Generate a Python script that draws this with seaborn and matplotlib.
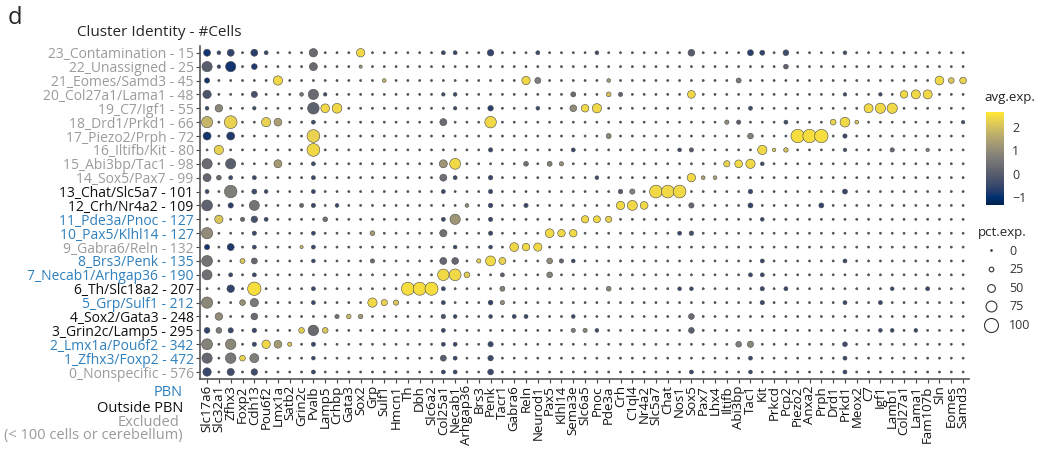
import numpy as np
import pandas as pd
import seaborn as sns
import matplotlib.pyplot as plt
from matplotlib.lines import Line2D
from matplotlib.colors import Normalize
from matplotlib.cm import ScalarMappable

# ========================================================
genes = ["Slc17a6", "Slc32a1", "Zfhx3", "Foxp2", "Cdh13", "Pou6f2", "Lmx1a", "Satb2",
         "Grin2c", "Pvalb", "Lamp5", "Crhbp", "Gata3", "Sox2", "Grp", "Sulf1", "Hmcn1",
         "Th", "Dbh", "Slc6a2", "Col25a1", "Necab1", "Arhgap36", "Brs3", "Penk", "Tacr1",
         "Gabra6", "Reln", "Neurod1", "Pax5", "Klhl14", "Sema3e", "Slc6a5", "Pnoc", "Pde3a",
         "Crh", "C1ql4", "Nr4a2", "Slc5a7", "Chat", "Nos1", "Sox5", "Pax7", "Lhx4", "Iltifb",
         "Abi3bp", "Tac1", "Kit", "Prkcd", "Pcp2", "Piezo2", "Anxa2", "Prph", "Drd1", "Prkd1",
         "Meox2", "C7", "Igf1", "Lamb1", "Col27a1", "Lama1", "Fam107b", "Sln", "Eomes", "Samd3"]

clusters = ["0_Nonspecific - 576", "1_Zfhx3/Foxp2 - 472", "2_Lmx1a/Pou6f2 - 342",
            "3_Grin2c/Lamp5 - 295", "4_Sox2/Gata3 - 248", "5_Grp/Sulf1 - 212",
            "6_Th/Slc18a2 - 207", "7_Necab1/Arhgap36 - 190", "8_Brs3/Penk - 135",
            "9_Gabra6/Reln - 132", "10_Pax5/Klhl14 - 127", "11_Pde3a/Pnoc - 127",
            "12_Crh/Nr4a2 - 109", "13_Chat/Slc5a7 - 101", "14_Sox5/Pax7 - 99",
            "15_Abi3bp/Tac1 - 98", "16_Iltifb/Kit - 80", "17_Piezo2/Prph - 72",
            "18_Drd1/Prkd1 - 66", "19_C7/Igf1 - 55", "20_Col27a1/Lama1 - 48",
            "21_Eomes/Samd3 - 45", "22_Unassigned - 25", "23_Contamination - 15"]

groups = ["excl", "pbn", "pbn", "out", "out", "pbn", "out", "pbn", "pbn", "excl", "pbn",
          "pbn", "out", "out", "excl", "excl", "excl", "excl", "excl", "excl", "excl",
          "excl", "excl", "excl"]

# most genes in most clusters: tiny dot
bg_pct, bg_avg = 5, -0.3

# (gene, pct.exp, avg.exp) for the dots that stand out, one list per cluster
c0 = [("Slc17a6", 55, -0.5), ("Zfhx3", 46, -0.4), ("Cdh13", 40, -0.4), ("Pvalb", 20, -0.5),
      ("Col25a1", 20, -0.5), ("Necab1", 20, -0.5), ("Penk", 34, -0.5), ("Sox5", 20, -0.5),
      ("Tac1", 18, -0.5), ("Prkd1", 20, -0.5)]
c1 = [("Slc17a6", 70, 0.2), ("Zfhx3", 72, 0.6), ("Foxp2", 34, 2.3), ("Cdh13", 60, 0.7),
      ("Pvalb", 18, -0.5), ("Col25a1", 36, 0.0), ("Necab1", 20, -0.5), ("Penk", 32, -0.5),
      ("Tac1", 20, -0.5), ("Prkd1", 20, -0.5)]
c2 = [("Slc17a6", 75, 0.8), ("Zfhx3", 72, 0.9), ("Cdh13", 22, -0.5), ("Pou6f2", 55, 2.4),
      ("Lmx1a", 50, 1.3), ("Satb2", 22, 2.1), ("Pvalb", 22, -0.5), ("Col25a1", 20, -0.5),
      ("Necab1", 20, -0.5), ("Penk", 30, -0.5), ("Abi3bp", 34, 0.7), ("Tac1", 38, 0.9),
      ("Prkd1", 26, -0.4)]
c3 = [("Slc17a6", 34, -0.6), ("Slc32a1", 34, 0.7), ("Zfhx3", 30, -0.5), ("Cdh13", 24, -0.5),
      ("Grin2c", 34, 2.2), ("Pvalb", 72, 0.3), ("Lamp5", 34, 2.1), ("Col25a1", 20, -0.5),
      ("Sema3e", 22, 0.7), ("Slc6a5", 22, 0.9), ("Pnoc", 18, -0.4), ("Sox5", 34, 0.0),
      ("Igf1", 18, -0.5), ("Lamb1", 18, -0.5), ("Lama1", 18, -0.5)]
c4 = [("Slc32a1", 48, 1.0), ("Cdh13", 42, 0.3), ("Crhbp", 22, 0.4), ("Gata3", 24, 1.9),
      ("Sox2", 24, 1.3), ("Col25a1", 24, -0.2), ("Necab1", 18, -0.5), ("Penk", 18, -0.5),
      ("Gabra6", 20, -0.5), ("Reln", 20, -0.5), ("Sema3e", 18, -0.5), ("Sox5", 34, 0.3)]
c5 = [("Slc17a6", 78, 0.9), ("Foxp2", 34, 1.1), ("Cdh13", 54, 0.6), ("Pvalb", 20, -0.5),
      ("Grp", 62, 2.4), ("Sulf1", 38, 2.3), ("Hmcn1", 30, 2.1), ("Col25a1", 20, -0.5),
      ("Penk", 26, -0.6), ("Tacr1", 22, 1.0), ("Kit", 22, -0.5), ("Prkd1", 20, -0.5),
      ("Igf1", 20, -0.5)]
c6 = [("Zfhx3", 48, -0.6), ("Cdh13", 95, 2.5), ("Pvalb", 20, -0.5), ("Th", 92, 2.5),
      ("Dbh", 92, 2.5), ("Slc6a2", 92, 2.5), ("Col25a1", 20, -0.5), ("Tacr1", 28, 0.8),
      ("Pde3a", 26, 0.9), ("Nos1", 18, -0.5), ("Sox5", 18, -0.5), ("Kit", 22, -0.5),
      ("Pcp2", 20, -0.5), ("Lamb1", 18, -0.5), ("Fam107b", 20, -0.5)]
c7 = [("Slc17a6", 68, 0.4), ("Zfhx3", 20, -0.5), ("Cdh13", 20, -0.5), ("Col25a1", 80, 2.4),
      ("Necab1", 82, 2.4), ("Arhgap36", 34, 2.2), ("Tacr1", 20, 0.0), ("Pax5", 34, 0.8),
      ("Tac1", 20, -0.5), ("Kit", 20, -0.5)]
c8 = [("Slc17a6", 75, 0.5), ("Foxp2", 28, 2.1), ("Cdh13", 36, 0.2), ("Pvalb", 18, -0.5),
      ("Grp", 22, 0.3), ("Col25a1", 44, 0.2), ("Necab1", 42, 0.2), ("Brs3", 22, 2.2),
      ("Penk", 68, 2.4), ("Tacr1", 44, 2.3), ("Pax5", 34, 1.0), ("Klhl14", 22, 0.2),
      ("Sema3e", 18, -0.5), ("Kit", 20, -0.5), ("Prkd1", 20, -0.5)]
c9 = [("Slc17a6", 30, -0.9), ("Zfhx3", 44, -0.8), ("Cdh13", 20, -0.5), ("Grin2c", 14, 1.8),
      ("Pvalb", 20, -0.5), ("Necab1", 18, -0.5), ("Penk", 18, -0.5), ("Gabra6", 58, 2.4),
      ("Reln", 48, 2.4), ("Neurod1", 54, 2.4)]
c10 = [("Slc17a6", 78, 1.0), ("Cdh13", 22, -0.5), ("Pvalb", 20, -0.5), ("Grp", 26, 1.3),
       ("Col25a1", 46, 0.4), ("Penk", 22, -0.5), ("Pax5", 58, 2.4), ("Klhl14", 48, 2.4),
       ("Sema3e", 48, 2.4), ("Nos1", 20, -0.5), ("Sox5", 24, -0.3)]
c11 = [("Slc32a1", 54, 2.1), ("Foxp2", 22, 0.3), ("Cdh13", 40, -0.3), ("Pou6f2", 20, -0.5),
       ("Lamp5", 26, 0.5), ("Col25a1", 20, -0.5), ("Necab1", 70, 1.2), ("Penk", 22, -0.5),
       ("Slc6a5", 46, 2.4), ("Pnoc", 44, 2.4), ("Pde3a", 38, 2.3), ("Kit", 18, -0.5)]
c12 = [("Slc17a6", 75, 0.1), ("Zfhx3", 30, -0.7), ("Cdh13", 68, 0.5), ("Grin2c", 20, 0.2),
       ("Pvalb", 22, -0.5), ("Crhbp", 18, -0.5), ("Arhgap36", 18, 1.0), ("Penk", 24, -0.5),
       ("Reln", 22, -0.5), ("Crh", 55, 2.4), ("C1ql4", 68, 2.4), ("Nr4a2", 50, 2.4),
       ("Sox5", 30, 0.2), ("Tac1", 28, -0.6), ("Prph", 28, -0.6)]
c13 = [("Slc17a6", 20, -0.4), ("Zfhx3", 88, 0.7), ("Cdh13", 28, -0.4), ("Pou6f2", 18, -0.4),
       ("Pvalb", 20, -0.5), ("Col25a1", 20, -0.5), ("Penk", 22, -0.5), ("Crh", 24, 0.0),
       ("C1ql4", 30, 0.8), ("Slc5a7", 90, 2.4), ("Chat", 90, 2.4), ("Nos1", 90, 2.4),
       ("Tac1", 24, -0.5), ("Prkd1", 28, -0.5)]
c14 = [("Slc17a6", 52, 0.2), ("Slc32a1", 26, 0.3), ("Zfhx3", 20, -0.4), ("Cdh13", 20, -0.5),
       ("Pvalb", 20, -0.5), ("Col25a1", 44, 0.4), ("Necab1", 20, -0.4), ("Penk", 24, -0.5),
       ("Pnoc", 18, -0.4), ("Sox5", 55, 2.4), ("Pax7", 18, 1.5), ("Lhx4", 18, 1.5)]
c15 = [("Slc17a6", 70, 0.3), ("Zfhx3", 70, 0.0), ("Lmx1a", 52, 1.3), ("Pvalb", 20, -0.4),
       ("Col25a1", 52, 1.2), ("Necab1", 75, 2.4), ("Reln", 26, 0.4), ("Pax5", 28, 0.8),
       ("Klhl14", 22, 1.1), ("Iltifb", 38, 2.3), ("Abi3bp", 50, 2.4), ("Tac1", 62, 2.4),
       ("Kit", 18, -0.4)]
c16 = [("Slc32a1", 62, 2.3), ("Pvalb", 90, 2.4), ("Penk", 22, -0.5), ("Sema3e", 20, -0.5),
       ("Nos1", 18, -0.4), ("Sox5", 22, 0.0), ("Kit", 62, 2.4), ("Prkcd", 16, 2.1),
       ("Pcp2", 24, 2.0), ("Prkd1", 16, -0.4), ("Lamb1", 22, 0.2), ("Fam107b", 16, 0.8)]
c17 = [("Slc17a6", 52, -0.9), ("Zfhx3", 52, -0.8), ("Pvalb", 90, 2.3), ("Pde3a", 28, 0.9),
       ("Tac1", 34, 0.8), ("Piezo2", 95, 2.5), ("Anxa2", 95, 2.5), ("Prph", 95, 2.5),
       ("Prkd1", 22, -0.5)]
c18 = [("Slc17a6", 78, 1.8), ("Zfhx3", 90, 2.3), ("Pou6f2", 62, 2.3), ("Lmx1a", 50, 1.4),
       ("Pvalb", 20, -0.4), ("Col25a1", 44, 0.3), ("Penk", 80, 2.4), ("Iltifb", 22, 1.0),
       ("Abi3bp", 22, 0.0), ("Pcp2", 20, -0.4), ("Drd1", 34, 2.3), ("Prkd1", 66, 2.4),
       ("Meox2", 18, 2.1), ("Samd3", 16, -0.4)]
c19 = [("Slc17a6", 18, -0.4), ("Slc32a1", 48, 0.9), ("Cdh13", 16, -0.4), ("Pvalb", 80, 0.1),
       ("Lamp5", 58, 2.4), ("Crhbp", 66, 2.4), ("Necab1", 16, -0.4), ("Penk", 32, -0.7),
       ("Neurod1", 18, -0.4), ("Sema3e", 42, 1.0), ("Slc6a5", 48, 2.4), ("Pnoc", 62, 2.4),
       ("Tac1", 20, -0.4), ("C7", 60, 2.4), ("Igf1", 70, 2.4), ("Lamb1", 70, 2.4)]
c20 = [("Slc17a6", 55, -0.2), ("Cdh13", 38, -0.3), ("Grin2c", 18, 0.5), ("Pvalb", 70, 0.3),
       ("Lamp5", 16, -0.4), ("Col25a1", 16, -0.4), ("Necab1", 18, -0.4), ("Sema3e", 28, 0.3),
       ("Pde3a", 26, 2.0), ("Crh", 22, 0.2), ("Sox5", 50, 2.4), ("Prkd1", 16, -0.4),
       ("Igf1", 16, -0.4), ("Col27a1", 48, 2.4), ("Lama1", 60, 2.4), ("Fam107b", 60, 2.4)]
c21 = [("Slc17a6", 30, -0.9), ("Lmx1a", 62, 2.4), ("Sulf1", 18, 1.8), ("Reln", 55, 2.4),
       ("Neurod1", 36, 0.7), ("Pde3a", 18, 1.2), ("Abi3bp", 28, 0.6), ("Sln", 58, 2.4),
       ("Eomes", 34, 2.1), ("Samd3", 42, 2.3)]
c22 = [("Slc17a6", 70, 0.0), ("Slc32a1", 16, -0.5), ("Zfhx3", 70, -0.9), ("Cdh13", 34, -0.8),
       ("Pvalb", 52, 0.3), ("Sox2", 14, 1.2), ("Pcp2", 26, 0.1)]
c23 = [("Slc17a6", 44, -0.9), ("Slc32a1", 18, -0.5), ("Zfhx3", 44, -0.6), ("Cdh13", 44, -0.7),
       ("Pou6f2", 20, -0.5), ("Pvalb", 55, 0.3), ("Sox2", 55, 2.4), ("Col25a1", 20, -0.5),
       ("Necab1", 20, -0.5), ("Penk", 40, -0.6), ("Neurod1", 20, -0.4), ("Pnoc", 18, -0.4),
       ("Sox5", 42, 0.0), ("Tac1", 36, -0.7), ("Kit", 28, -0.6), ("Pcp2", 34, -0.4),
       ("Prkd1", 18, -0.4)]

legend_pcts = [0, 25, 50, 75, 100]
cbar_ticks = [-1, 0, 1, 2]

# ========================================================
group_colors = {"pbn": "#2f80bd", "out": "#111111", "excl": "#9b9b9b"}
vmin, vmax = -1.35, 2.65

def diameter_pt(pct):
    # Seurat-style radius scaling, pixels -> points at 100 dpi
    return (1.5 + 12.5 * np.asarray(pct) / 100) * 0.72

hits = [c0, c1, c2, c3, c4, c5, c6, c7, c8, c9, c10, c11, c12, c13, c14, c15, c16,
        c17, c18, c19, c20, c21, c22, c23]

records = []
for lab, cl in zip(clusters, hits):
    lookup = {g: (p, a) for g, p, a in cl}
    for g in genes:
        p, a = lookup.get(g, (bg_pct, bg_avg))
        records.append({"gene": g, "cluster": lab, "pct": p, "avg": a})
df = pd.DataFrame(records)
df["area"] = diameter_pt(df["pct"]) ** 2
amin, amax = diameter_pt(0) ** 2, diameter_pt(100) ** 2

# ========================================================
sns.set_theme(style="ticks")
plt.rcParams["font.family"] = ["Open Sans", "DejaVu Sans"]

fig = plt.figure(figsize=(10.47, 4.49), dpi=100)
ax = fig.add_axes([0.191, 0.156, 0.7345, 0.742])

sns.scatterplot(data=df, x="gene", y="cluster", hue="avg", palette="cividis",
                hue_norm=(vmin, vmax), size="area", sizes=(amin, amax),
                size_norm=(amin, amax), edgecolor="#4a4a4a", linewidth=0.4,
                legend=False, ax=ax)

ax.set_xticks(range(len(genes)))
ax.set_xticklabels(genes, rotation=90, fontsize=9.5, color="#111111")
ax.set_yticks(range(len(clusters)))
ax.set_yticklabels(clusters, fontsize=10)
for lab, grp in zip(ax.get_yticklabels(), groups):
    lab.set_color(group_colors[grp])
ax.set_xlim(-0.6, len(genes) - 0.5)
ax.set_ylim(-0.5, len(clusters) - 0.5)
ax.set_xlabel("")
ax.set_ylabel("")
ax.tick_params(length=3, width=0.8, color="#444444", pad=1.5)
sns.despine(ax=ax)
for s in ["left", "bottom"]:
    ax.spines[s].set_color("#555555")
    ax.spines[s].set_linewidth(1.2)

# colour bar
cax = fig.add_axes([0.9417, 0.5434, 0.0172, 0.207])
sm = ScalarMappable(norm=Normalize(vmin, vmax), cmap="cividis")
cb = fig.colorbar(sm, cax=cax, ticks=cbar_ticks)
cb.outline.set_visible(False)
cax.tick_params(length=0, labelsize=9, pad=6, colors="#333333")
fig.text(984 / 1047, 1 - 98 / 449, "avg.exp.", fontsize=9.5, va="center", color="#222222")

# size legend
handles = [Line2D([], [], marker="o", linestyle="", markersize=diameter_pt(p),
                  markerfacecolor="white", markeredgecolor="#333333", markeredgewidth=0.8)
           for p in legend_pcts]
leg = fig.legend(handles, [str(p) for p in legend_pcts], title="pct.exp.", loc="upper left",
                 bbox_to_anchor=(978 / 1047, 1 - 226 / 449), frameon=False, fontsize=9,
                 title_fontsize=9.5, labelspacing=0.45, handletextpad=0.5,
                 borderaxespad=0, borderpad=0, alignment="left")
for t in leg.get_texts():
    t.set_color("#333333")

# annotations
fig.text(8 / 1047, 1 - 18 / 449, "d", fontsize=17, va="center")
fig.text(77 / 1047, 1 - 33 / 449, "Cluster Identity - #Cells", fontsize=11, va="center")
fig.text(183 / 1047, 1 - 392 / 449, "PBN", fontsize=10.5, ha="right", va="center",
         color=group_colors["pbn"])
fig.text(183 / 1047, 1 - 408 / 449, "Outside PBN", fontsize=10.5, ha="right", va="center",
         color=group_colors["out"])
fig.text(179 / 1047, 1 - 422 / 449, "Excluded", fontsize=10.5, ha="right", va="center",
         color=group_colors["excl"])
fig.text(183 / 1047, 1 - 436 / 449, "(< 100 cells or cerebellum)", fontsize=10.5, ha="right",
         va="center", color=group_colors["excl"])

plt.savefig("out.png", dpi=100)
